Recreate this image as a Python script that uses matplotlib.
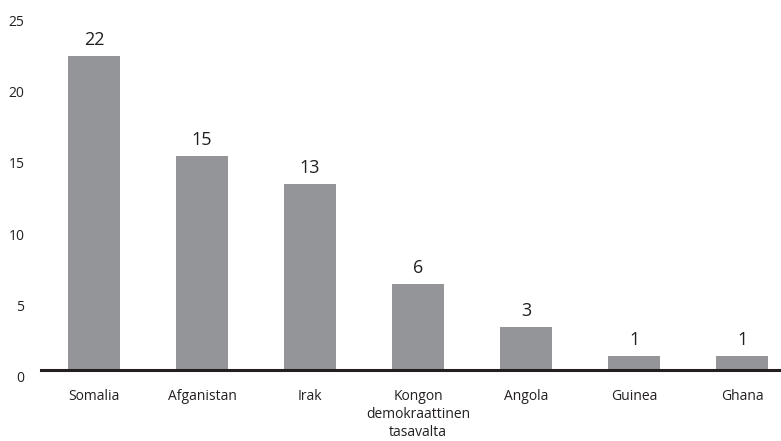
"""Bar chart: counts by country of origin."""

import matplotlib

matplotlib.use("Agg")
import matplotlib.pyplot as plt
import matplotlib.transforms as mtransforms
import numpy as np

countries = [
    "Somalia",
    "Afganistan",
    "Irak",
    "Kongon\ndemokraattinen\ntasavalta",
    "Angola",
    "Guinea",
    "Ghana",
]
counts = [22, 15, 13, 6, 3, 1, 1]
yticks = [0, 5, 10, 15, 20, 25]

plt.rcParams["font.family"] = ["Open Sans", "DejaVu Sans"]

fig = plt.figure(figsize=(7.81, 4.41), dpi=100)
ax = fig.add_axes([41 / 781, (441 - 370) / 441, 740 / 781, 357 / 441])

x = np.arange(len(countries))
ax.bar(x, counts, width=0.48, color="#939598", zorder=2)

for xi, v in zip(x, counts):
    ax.annotate(str(v), (xi, v), xytext=(0, 5), textcoords="offset points",
                ha="center", va="bottom", fontsize=13, color="#231f20")

ax.set_xlim(-0.49, 6.36)
ax.set_ylim(0, 25)
ax.set_yticks(yticks)
ax.set_xticks(x, countries)

for side in ("top", "right", "left"):
    ax.spines[side].set_visible(False)
ax.spines["bottom"].set_linewidth(2.2)
ax.spines["bottom"].set_color("#231f20")

ax.tick_params(axis="both", length=0, labelsize=10, labelcolor="#231f20")
ax.tick_params(axis="y", pad=12)
ax.tick_params(axis="x", pad=14)

# tick numbers sit a little below their level in the original
shift = mtransforms.ScaledTranslation(0, -7 / 100, fig.dpi_scale_trans)
for lbl in ax.get_yticklabels():
    lbl.set_transform(lbl.get_transform() + shift)
for lbl in ax.get_xticklabels():
    lbl.set_linespacing(1.25)

fig.savefig("out.png", dpi=100)
plt.close(fig)
